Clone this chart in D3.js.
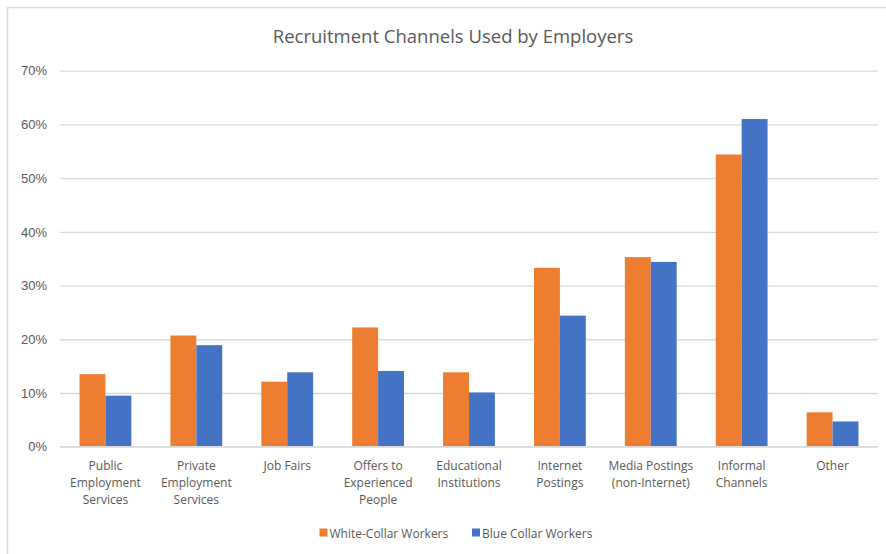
<!DOCTYPE html>
<html><head><meta charset="utf-8">
<script src="https://cdn.jsdelivr.net/npm/d3@7"></script>
<style>body{margin:0;background:#fff}svg{display:block}</style>
</head><body><svg id="c" width="886" height="554"></svg>
<script>
const categories = [
  ["Public","Employment","Services"],
  ["Private","Employment","Services"],
  ["Job Fairs"],
  ["Offers to","Experienced","People"],
  ["Educational","Institutions"],
  ["Internet","Postings"],
  ["Media Postings","(non-Internet)"],
  ["Informal","Channels"],
  ["Other"]
];
const whiteCollar = [0.135, 0.207, 0.121, 0.222, 0.1385, 0.333, 0.353, 0.544, 0.064];
const blueCollar  = [0.095, 0.189, 0.1385, 0.141, 0.101, 0.244, 0.344, 0.610, 0.047];
const seriesNames = ["White-Collar Workers", "Blue Collar Workers"];
const seriesColors = ["#ED7D31", "#4472C4"];
const yTicks = [0, 0.1, 0.2, 0.3, 0.4, 0.5, 0.6, 0.7];
const chartTitle = "Recruitment Channels Used by Employers";

const txtFont = "'Open Sans', Lato, sans-serif";
const svg = d3.select("#c");
svg.append("rect").attr("x",7.5).attr("y",7.5).attr("width",900).attr("height",600)
  .attr("fill","none").attr("stroke","#d9d9d9").attr("stroke-width",1.5);

const pLeft = 60, pRight = 878, pTop = 70.7, pBottom = 446.7;
const keys = categories.map((c,i)=>i);
const x = d3.scaleBand().domain(keys).range([pLeft,pRight]).paddingInner(0.43).paddingOuter(0.215);
const x1 = d3.scaleBand().domain([0,1]).range([0,x.bandwidth()]);
const y = d3.scaleLinear().domain([0,0.7]).range([pBottom,pTop]);

// gridlines
const yAxis = d3.axisLeft(y).tickValues(yTicks).tickFormat(d3.format(".0%")).tickSize(-(pRight-pLeft)).tickPadding(13);
const ga = svg.append("g").attr("transform",`translate(${pLeft},0)`).call(yAxis);
ga.select(".domain").remove();
ga.selectAll(".tick line").attr("stroke","#d9d9d9").attr("stroke-width",1.3);
ga.selectAll(".tick text").attr("fill","#595959").attr("font-family","Liberation Sans, Arial, sans-serif").attr("font-size",13);

const data = [whiteCollar, blueCollar];
data.forEach((vals,s)=>{
  svg.append("g").selectAll("rect").data(vals).join("rect")
    .attr("x",(d,i)=>x(i)+x1(s))
    .attr("width",x1.bandwidth())
    .attr("y",d=>y(d))
    .attr("height",d=>y(0)-y(d))
    .attr("fill",seriesColors[s]);
});
// baseline
svg.append("line").attr("x1",pLeft).attr("x2",pRight).attr("y1",y(0)).attr("y2",y(0))
  .attr("stroke","#d9d9d9").attr("stroke-width",1.3);

// x labels
const xAxis = d3.axisBottom(x).tickSize(0).tickFormat("");
const gx = svg.append("g").attr("transform",`translate(0,${pBottom})`).call(xAxis);
gx.select(".domain").remove();
gx.selectAll(".tick").each(function(d){
  const t = d3.select(this).append("text").attr("fill","#595959")
    .attr("font-family",txtFont).attr("font-size",12)
    .attr("text-anchor","middle");
  categories[d].forEach((ln,j)=>{
    t.append("tspan").attr("x",0).attr("y",23+j*17).text(ln);
  });
});

// title
svg.append("text").attr("x",453).attr("y",43).attr("text-anchor","middle")
  .attr("fill","#595959").attr("font-family",txtFont)
  .attr("font-size",18.5).text(chartTitle);

// legend
const legX = [319.5, 472];
seriesNames.forEach((n,i)=>{
  svg.append("rect").attr("x",legX[i]).attr("y",528.5).attr("width",8).attr("height",8).attr("fill",seriesColors[i]);
  svg.append("text").attr("x",legX[i]+10).attr("y",537.5).attr("fill","#595959")
    .attr("font-family",txtFont).attr("font-size",12).text(n);
});
</script></body></html>
